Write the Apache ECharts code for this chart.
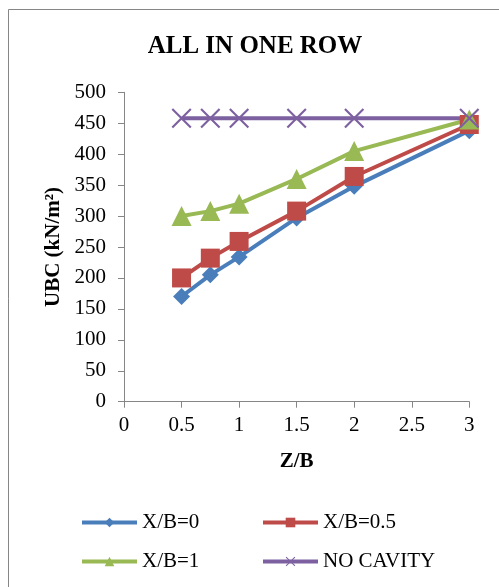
<!DOCTYPE html>
<html>
<head>
<meta charset="utf-8">
<script src="https://cdn.jsdelivr.net/npm/echarts@6/dist/echarts.min.js"></script>
<style>
  html, body { margin: 0; padding: 0; background: #fff; }
  #chart { width: 499px; height: 587px; }
</style>
</head>
<body>
<div id="chart"></div>
<script>
// Z/B positions at which UBC was measured
const zOverB = [0.5, 0.75, 1, 1.5, 2, 3];

// Ultimate bearing capacity (kN/m²) for each cavity offset
const ubcXB0 = [170, 205, 234, 297, 348, 438];
const ubcXB05 = [200, 232, 259, 308, 364, 448];
const ubcXB1 = [300, 308, 320, 360, 405, 456];
const ubcNoCavity = [458, 458, 458, 458, 458, 458];

const seriesNames = ['X/B=0', 'X/B=0.5', 'X/B=1', 'NO CAVITY'];

const FONT = '"Liberation Serif", "Times New Roman", serif';
const AXIS_GREY = '#868686';

// Thin "x" cross used as the marker of the reference (no-cavity) line
const crossPath = 'path://M0,1.5L1.5,0L10,8.5L18.5,0L20,1.5L11.5,10L20,18.5L18.5,20L10,11.5L1.5,20L0,18.5L8.5,10Z';

function pairs(ys) {
  return zOverB.map((x, i) => [x, ys[i]]);
}

function lineSeries(name, ys, color, symbol, size) {
  return {
    name: name,
    type: 'line',
    data: pairs(ys),
    symbol: symbol,
    symbolSize: size,
    showAllSymbol: true,
    lineStyle: { color: color, width: 4 },
    itemStyle: { color: color },
    emphasis: { disabled: true },
    animation: false
  };
}

function legendAt(name, left, top) {
  return {
    data: [name],
    left: left,
    top: top,
    padding: 0,
    itemWidth: 55,
    itemHeight: 12,
    lineStyle: { width: 4 },
    textStyle: { fontFamily: FONT, fontSize: 21, color: '#000' }
  };
}

const chart = echarts.init(document.getElementById('chart'), null, { renderer: 'canvas' });

chart.setOption({
  backgroundColor: '#fff',
  animation: false,
  title: {
    text: 'ALL IN ONE ROW',
    left: 255,
    top: 34,
    padding: 0,
    textAlign: 'center',
    textStyle: { fontFamily: FONT, fontSize: 25, fontWeight: 'bold', color: '#000' }
  },
  graphic: [{
    type: 'rect',
    shape: { x: 8.5, y: 9.5, width: 600, height: 700 },
    style: { fill: 'none', stroke: AXIS_GREY, lineWidth: 1 },
    silent: true,
    z: -10
  }],
  legend: [
    legendAt(seriesNames[0], 80, 512),
    legendAt(seriesNames[1], 261, 512),
    legendAt(seriesNames[2], 80, 551),
    legendAt(seriesNames[3], 261, 551)
  ],
  grid: { left: 124, top: 92.3, right: 29.7, bottom: 185.3, containLabel: false },
  xAxis: {
    type: 'value',
    min: 0,
    max: 3,
    interval: 0.5,
    name: 'Z/B',
    nameLocation: 'middle',
    nameGap: 49,
    nameTextStyle: { fontFamily: FONT, fontSize: 21, fontWeight: 'bold', color: '#000' },
    axisLine: { show: true, onZero: false, lineStyle: { color: AXIS_GREY, width: 1 } },
    axisTick: { show: true, inside: false, length: 6, lineStyle: { color: AXIS_GREY } },
    axisLabel: { fontFamily: FONT, fontSize: 21, color: '#000', margin: 13 },
    splitLine: { show: false }
  },
  yAxis: {
    type: 'value',
    min: 0,
    max: 500,
    interval: 50,
    name: 'UBC (kN/m²)',
    nameLocation: 'middle',
    nameGap: 55,
    nameRotate: 90,
    nameTextStyle: { fontFamily: FONT, fontSize: 21, fontWeight: 'bold', color: '#000' },
    axisLine: { show: true, lineStyle: { color: AXIS_GREY, width: 1 } },
    axisTick: { show: true, inside: false, length: 6, lineStyle: { color: AXIS_GREY } },
    axisLabel: { fontFamily: FONT, fontSize: 21, color: '#000', margin: 18 },
    splitLine: { show: false }
  },
  series: [
    lineSeries(seriesNames[0], ubcXB0, '#4A7EBB', 'diamond', 17),
    lineSeries(seriesNames[1], ubcXB05, '#BE4B48', 'rect', 19),
    lineSeries(seriesNames[2], ubcXB1, '#98B954', 'triangle', 20),
    lineSeries(seriesNames[3], ubcNoCavity, '#7D60A0', crossPath, 20)
  ]
});
</script>
</body>
</html>
